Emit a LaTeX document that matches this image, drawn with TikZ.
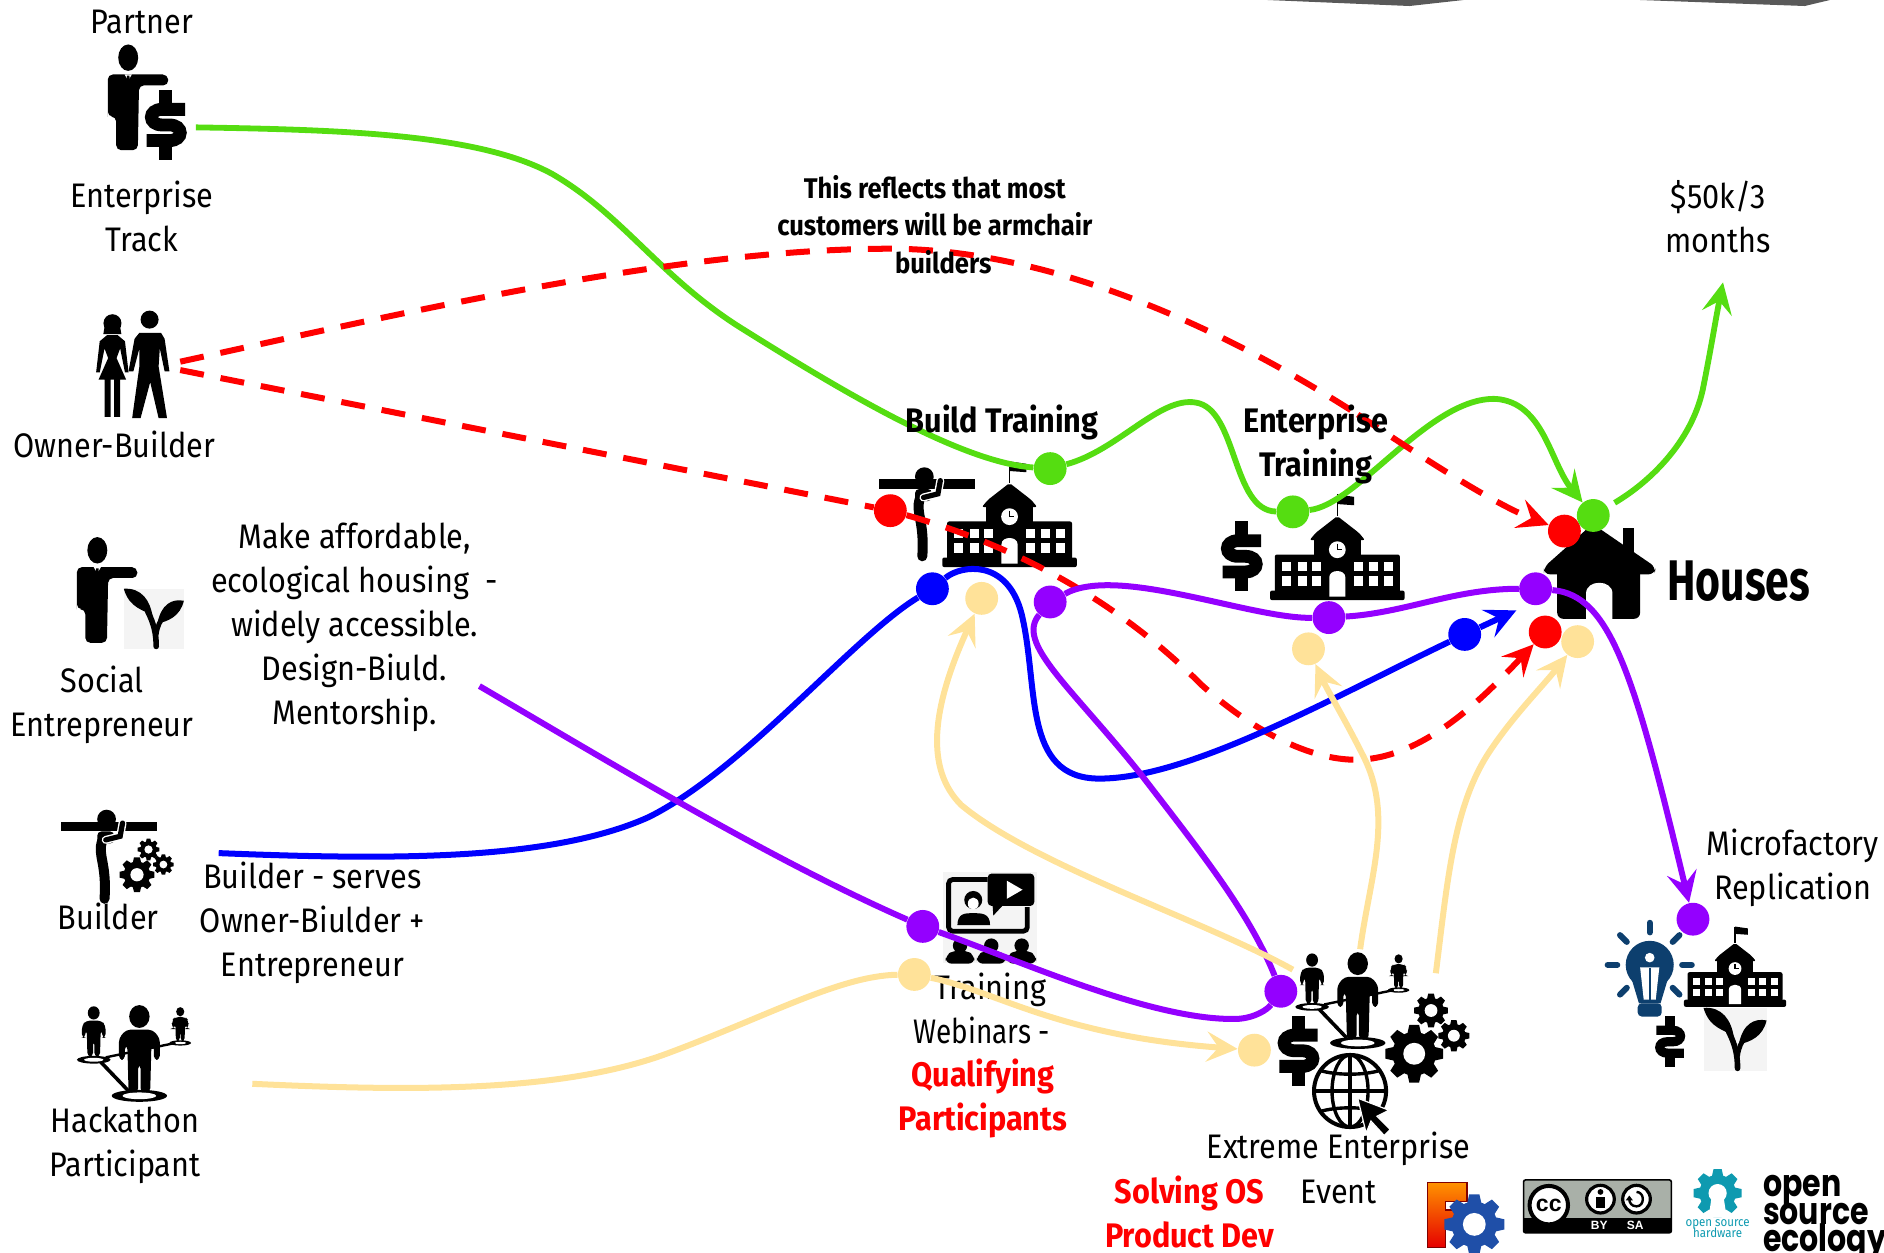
\documentclass[tikz,border=0pt]{standalone}
\usepackage{fontspec}
\setmainfont[FakeStretch=0.9]{Fira Sans}
\newfontfamily\narrowfont[FakeStretch=0.82]{Fira Sans}
\newfontfamily\osefont{Poppins}
\newfontfamily\ccfont{Liberation Sans}
\usetikzlibrary{arrows.meta,shapes.geometric}
\setlength{\lineskiplimit}{-10pt}
\definecolor{cgreen}{HTML}{55DD11}
\definecolor{cred}{HTML}{FF0000}
\definecolor{cblue}{HTML}{0000FF}
\definecolor{cpurple}{HTML}{9400FF}
\definecolor{ccream}{HTML}{FFE299}
\definecolor{cnavy}{HTML}{0D3F6E}
\definecolor{cteal}{HTML}{0E9AB0}
\definecolor{cbadge}{HTML}{A9B0A8}
\definecolor{cbg}{HTML}{F4F4F4}
\definecolor{cfcblue}{HTML}{1F4FA8}
\pgfdeclarelayer{icons}
\pgfdeclarelayer{lines}
\pgfsetlayers{icons,lines,main}
\tikzset{
  lab/.style={align=center,inner sep=0pt,font=\fontsize{17}{22}\selectfont},
  labred/.style={lab,text=cred,font=\fontsize{17}{22}\selectfont\bfseries},
  labbold/.style={lab,font=\fontsize{17}{22}\selectfont\bfseries},
  pt/.style={circle,inner sep=0pt,minimum size=16.4pt,fill=#1},
  wire/.style={line width=3pt,draw=#1},
  greenwire/.style={line width=2.9pt,draw=cgreen},
  redwire/.style={line width=3pt,draw=cred,dash pattern=on 12pt off 8.5pt},
  tip/.style={-{Stealth[length=15.5pt,width=15pt,inset=6pt]}},
  pics/suitman/.style={code={
    \fill (0,0) ellipse [x radius=8.3,y radius=11];
    \fill[rounded corners=2.5] (-17,45) -- (-17,14) -- (33,14) -- (33.5,23) -- (9,23) -- (8,77) -- (-10,77) -- (-10,49) -- (-17,49) -- cycle;
    \fill[white] (-3,14) -- (3,14) -- (0,19) -- cycle;
    \fill (-1,15) -- (1,15) -- (1.5,22) -- (0,25) -- (-1.5,22) -- cycle;
  }},
  pics/dollarmark/.style={code={
    \draw[line width=#1] (16,-13) -- (-3,-13) .. controls (-15,-13) and (-15,0) .. (-3,0) -- (3,0) .. controls (15,0) and (15,13) .. (3,13) -- (-16,13);
    \fill (-5.5,-29) rectangle (5.5,-15);
    \fill (-5.5,15) rectangle (5.5,29);
  }},
  pics/school/.style={code={
    \fill[rounded corners=1] (-56,0) rectangle (56,-8);
    \fill[rounded corners=1] (-52,-6) rectangle (52,-38);
    \fill (-19.5,-36) rectangle (19.5,-52);
    \fill[rounded corners=1] (-23,-50) -- (-18,-56) -- (0,-70) -- (18,-56) -- (23,-50) -- cycle;
    \draw[line width=0.8pt] (0,-70) -- (0,-88);
    \fill (0,-88) -- (14,-86) -- (14,-79) -- (0,-80) -- cycle;
    \fill[white] (0,-42) circle [radius=7];
    \draw[line width=0.7pt] (0,-47) -- (0,-42) -- (4,-42);
    \fill[white] (-6.7,-3) -- (-6.7,-19) .. controls (-6.7,-26) and (6.7,-26) .. (6.7,-19) -- (6.7,-3) -- cycle;
    \foreach \xa in {-46,-33,-21,14,26,39}{
      \fill[white] (\xa,-32) rectangle ++(7.5,8);
      \fill[white] (\xa,-20) rectangle ++(7.5,8);
    }
  }},
  pics/beamer/.style={code={
    \fill (0,-4) rectangle (80,4);
    \fill (37.7,-6.3) circle [radius=7.8];
    \draw[line width=5pt,line cap=round] (34,12) .. controls (30,24) and (38,30) .. (36,60);
    \fill[rounded corners=2] (30,4) rectangle (44,14);
    \draw[white,line width=4pt,line cap=round] (37,11) -- (49,8) -- (51,-3);
    \draw[line width=2.6pt,line cap=round] (37,11) -- (49,8) -- (51,-3);
  }},
  pics/plantmark/.style={code={
    \fill[cbg] (-25,-25) rectangle (25,25);
    \fill (-25,-25) .. controls (-10,-26) and (-3,-15) .. (-1,-2) .. controls (-8,-8) and (-20,-8) .. cycle;
    \fill (25,-15) .. controls (15,-17) and (6,-12) .. (3,4) .. controls (12,2) and (22,-2) .. cycle;
    \draw[line width=2.8pt,line cap=round] (2,23) .. controls (2,12) and (0,4) .. (-5,-6);
    \draw[line width=2.4pt,line cap=round] (2,13) .. controls (3,6) and (5,2) .. (9,-3);
  }},
  pics/cog/.style={code={
    \fill[#1] (0,0) circle [radius=0.76];
    \foreach \aa in {0,45,...,315}{
      \fill[#1,rotate=\aa] (-0.26,0.6) -- (-0.17,1) -- (0.17,1) -- (0.26,0.6) -- cycle;
    }
    \fill[white] (0,0) circle [radius=0.38];
  }},
  pics/figure/.style={code={
    \fill (0,0) ellipse [x radius=8.5,y radius=9.5];
    \fill[rounded corners=2] (-17,36) -- (-17,18) -- (-11,11) -- (11,11) -- (17,18) -- (17,36) -- (12,36) -- (12,24) -- (10,24) -- (9,63) -- (1,63) -- (1,40) -- (-1,40) -- (-1,63) -- (-9,63) -- (-10,24) -- (-12,24) -- (-12,36) -- cycle;
  }},
  pics/network/.style={code={
    \fill (0,66) ellipse [x radius=23,y radius=5];
    \fill[white] (0,66) ellipse [x radius=14,y radius=2.8];
    \fill (-38,36) ellipse [x radius=14,y radius=3.2];
    \fill[white] (-38,36) ellipse [x radius=8,y radius=1.6];
    \fill (34,22) ellipse [x radius=9,y radius=2.2];
    \fill[white] (34,22) ellipse [x radius=5,y radius=1];
    \draw[line width=1.8pt] (-32,38) -- (-9,62);
    \draw[line width=1.2pt] (-28,34) -- (30,22);
    \pic at (0,0) {figure};
    \pic[scale=0.58] at (-38,-3) {figure};
    \pic[scale=0.4] at (34,-4) {figure};
  }},
}
\begin{document}
\begin{tikzpicture}[x=0.6pt,y=-0.6pt]
\useasboundingbox (0,0) rectangle (1568,1042.8);

% ---------- junction dots
\node[pt=cgreen] (gb) at (874,390) {};
\node[pt=cgreen] (ge) at (1076,426) {};
\node[pt=cred] (rh) at (1302,442) {};
\node[pt=cgreen] (gh) at (1326,429) {};
\node[pt=cred] (rb) at (741,425) {};
\node[pt=cblue] (bb) at (776,490) {};
\node[pt=ccream] (cb) at (817,498) {};
\node[pt=cpurple] (pb) at (874,501) {};
\node[pt=cpurple] (pe) at (1106,514) {};
\node[pt=ccream] (ce) at (1089,540) {};
\node[pt=cpurple] (ph) at (1278,490) {};
\node[pt=cblue] (bh) at (1219,528) {};
\node[pt=cred] (rl) at (1286,526) {};
\node[pt=ccream] (cl) at (1313,534) {};
\node[pt=cpurple] (pm) at (1409,765) {};
\node[pt=cpurple] (pw) at (768,771) {};
\node[pt=ccream] (cw) at (761,811) {};
\node[pt=cpurple] (px) at (1066,825) {};
\node[pt=ccream] (cx) at (1044,874) {};

% ---------- free connector ends
\coordinate (gstart) at (163,106);
\coordinate (gend) at (1434,235);
\coordinate (rstarta) at (150,301);
\coordinate (rstartb) at (150,308);
\coordinate (bstart) at (182,710);
\coordinate (bend) at (1262,508);
\coordinate (pstart) at (399,571);
\coordinate (cstart) at (210,902);
\coordinate (cfroma) at (1076,807);
\coordinate (cfromb) at (1132,790);
\coordinate (cfromc) at (1195,810);

% ---------- connectors
\begin{pgfonlayer}{lines}
\draw[greenwire] (gstart) .. controls (290,108) and (400,112) .. (460,145) .. controls (520,180) and (550,232) .. (620,275) .. controls (700,325) and (800,385) .. (gb);
\draw[greenwire] (gb) .. controls (930,375) and (965,330) .. (995,335) .. controls (1030,340) and (1025,425) .. (ge);
\draw[greenwire] (ge) .. controls (1130,420) and (1190,330) .. (1245,332);
\draw[greenwire,tip] (1245,332) .. controls (1285,335) and (1290,385) .. (gh);
\draw[greenwire,tip,shorten <=4pt] (gh) .. controls (1375,400) and (1410,365) .. (1418,320) .. controls (1424,290) and (1428,265) .. (gend);
\draw[redwire] (rstarta) .. controls (330,262) and (560,207) .. (740,207) .. controls (900,207) and (1060,300) .. (1130,345);
\draw[redwire,tip] (1130,345) .. controls (1190,385) and (1245,420) .. (rh);
\draw[redwire] (rstartb) -- (rb);
\draw[redwire,tip] (rb) .. controls (830,450) and (920,490) .. (1000,570) .. controls (1050,615) and (1100,635) .. (1135,632) .. controls (1190,628) and (1240,575) .. (rl);
\draw[wire=cblue] (bstart) .. controls (330,716) and (460,716) .. (540,680) .. controls (620,640) and (710,530) .. (bb);
\draw[wire=cblue] (bb) .. controls (800,470) and (838,465) .. (850,510) .. controls (865,570) and (850,648) .. (915,648) .. controls (990,648) and (1110,580) .. (bh);
\draw[wire=cblue,tip] (bh) -- (bend);
\draw[wire=cpurple] (pstart) .. controls (500,630) and (640,715) .. (pw);
\draw[wire=cpurple] (pw) .. controls (850,800) and (960,850) .. (1030,848) .. controls (1045,847) and (1055,840) .. (px);
\draw[wire=cpurple] (px) .. controls (1040,760) and (1000,710) .. (950,645) .. controls (890,570) and (845,535) .. (pb);
\draw[wire=cpurple] (pb) .. controls (930,470) and (1040,515) .. (pe);
\draw[wire=cpurple] (pe) .. controls (1170,510) and (1210,490) .. (ph);
\draw[wire=cpurple,tip] (ph) .. controls (1340,495) and (1360,560) .. (pm);
\draw[wire=ccream] (cstart) .. controls (340,908) and (470,910) .. (560,875) .. controls (640,845) and (700,812) .. (cw);
\draw[wire=ccream,tip] (cw) .. controls (830,825) and (880,862) .. (cx);
\draw[wire=ccream,tip] (cfroma) .. controls (1000,765) and (860,720) .. (800,670) .. controls (770,640) and (775,590) .. (cb);
\draw[wire=ccream,tip] (cfromb) .. controls (1140,730) and (1160,680) .. (1135,630) .. controls (1120,600) and (1105,575) .. (ce);
\draw[wire=ccream,tip] (cfromc) .. controls (1205,730) and (1210,670) .. (1240,625) .. controls (1260,595) and (1285,570) .. (cl);
\end{pgfonlayer}

% ---------- icons
\begin{pgfonlayer}{icons}
\node[lab] (ttrain) at (817,839) {\hspace*{9pt}Training\\{\narrowfont Webinars -}};
\fill[black!65] (1055,0) -- (1173,5) -- (1218,0) -- cycle;
\fill[black!65] (1365,0) -- (1502,5) -- (1523,0) -- cycle;
% partner
\pic at (106.7,48) {suitman};
\pic at (138,104) {dollarmark=6.4pt};
% couple
\fill (93.6,269) circle [radius=7.5];
\fill (86,278) -- (88,266) -- (99,266) -- (101,278) -- cycle;
\fill (89,279) -- (98,279) -- (104,284) -- (107,310) -- (104,310) -- (100,290) -- (97,298) -- (105,316) -- (100,316) -- (100,347) -- (95,347) -- (95,316) -- (92,316) -- (92,347) -- (87,347) -- (87,316) -- (82,316) -- (90,298) -- (87,290) -- (83,310) -- (80,310) -- (83,284) -- cycle;
\fill (124.5,266) circle [radius=7.5];
\fill (116,277) -- (134,277) -- (137,282) -- (141,309) -- (137,309) -- (133,290) -- (132,305) -- (139,348) -- (132,348) -- (125,318) -- (117,348) -- (110,348) -- (116,305) -- (116,290) -- (111,309) -- (107,309) -- (112,282) -- cycle;
% social entrepreneur
\pic at (81,458) {suitman};
\pic at (128,515) {plantmark};
% builder
\pic at (51,688) {beamer};
\pic[scale=14.5] at (114,728) {cog=black};
\pic[scale=9] at (123.6,707) {cog=black};
\pic[scale=8.5] at (136,719.5) {cog=black};
% hackathon
\pic at (116,846) {network};
% build training
\pic at (731.6,403) {beamer};
\pic at (840.2,472) {school};
% enterprise training
\pic at (1033.5,463) {dollarmark=6.4pt};
\pic at (1113,499.5) {school};
% house
\fill[rounded corners=3] (1325.5,436) -- (1378,472) -- (1377,478) -- (1285,478) -- (1285,472) -- cycle;
\fill (1351,439.5) rectangle (1360,462);
\fill[rounded corners=3] (1296,470) -- (1365,470) -- (1365,515) -- (1296,515) -- cycle;
\fill[white] (1320,515) -- (1320,494) .. controls (1320,482) and (1342,482) .. (1342,494) -- (1342,515) -- cycle;
% webinar
\fill[cbg] (784.6,726) rectangle (862.8,801.7);
\draw[line width=2.4pt,rounded corners=2] (855,755) -- (855,775) -- (789.5,775) -- (789.5,732) -- (822,732);
\fill[rounded corners=2] (822,727) rectangle (860.8,754);
\fill (826,752) -- (826.7,762) -- (836,752) -- cycle;
\fill[white] (838,733) -- (838,748) -- (851,740.5) -- cycle;
\fill (810,749) circle [radius=7.5];
\fill[white] (810,752) ellipse [x radius=4.5,y radius=5];
\fill (796.8,770) .. controls (797,760) and (803,760) .. (810,760) .. controls (817,760) and (824,760) .. (824,770) -- cycle;
\foreach \xa in {799,825,850.3}{
  \fill (\xa,787) circle [radius=6];
  \fill[rounded corners=3] (\xa-12,802) -- (\xa-12,795) -- (\xa-5,791) -- (\xa+5,791) -- (\xa+12,795) -- (\xa+12,802) -- cycle;
}
% extreme enterprise
\pic at (1130,802) {network};
\pic at (1080.7,874.5) {dollarmark=6.4pt};
\pic[scale=24] at (1177,877) {cog=black};
\pic[scale=14] at (1191,841) {cog=black};
\pic[scale=13] at (1210,862) {cog=black};
\draw[line width=2pt,fill=white] (1123.6,908) circle [radius=30];
\draw[line width=1.7pt] (1123.6,908) ellipse [x radius=15,y radius=30];
\draw[line width=1.7pt] (1123.6,878) -- (1123.6,938);
\draw[line width=1.7pt] (1094,908) -- (1153,908);
\draw[line width=1.7pt] (1099,891) .. controls (1112,895) and (1135,895) .. (1148,891);
\draw[line width=1.7pt] (1099,925) .. controls (1112,921) and (1135,921) .. (1148,925);
\fill[draw=white,line width=0.6pt] (1130,914) -- (1156,924) -- (1146,929) -- (1157,940) -- (1152,945) -- (1141,933) -- (1137,943) -- cycle;
% microfactory
\foreach \aa in {0,45,90,135,180,225,315}{
  \draw[cnavy,line width=3pt,line cap=round,rotate around={\aa:(1373,803)}] (1400,803) -- (1408,803);
}
\fill[cnavy] (1373,803) circle [radius=20];
\fill[cnavy] (1358,815) -- (1388,815) -- (1382,835) -- (1364,835) -- cycle;
\fill[cnavy,rounded corners=2] (1363,835) rectangle (1383,846);
\fill[white] (1373,797) circle [radius=4];
\fill[white] (1365,805) -- (1381,805) -- (1378,832) -- (1368,832) -- cycle;
\fill[cnavy] (1372,806) -- (1374,806) -- (1374,832) -- (1372,832) -- cycle;
\pic[scale=0.76] at (1444,838) {school};
\pic[xscale=-0.72,yscale=0.73] at (1390,867) {dollarmark=4.6pt};
\pic[scale=1.05] at (1444,865) {plantmark};
% FreeCAD logo
\path[top color=orange!85!yellow,bottom color=red!90!black,draw=red!50!black,line width=0.6pt] (1188,984) -- (1221,984) -- (1221,1000) -- (1203,1000) -- (1203,1007) -- (1216,1007) -- (1216,1020) -- (1203,1020) -- (1203,1038) -- (1188,1038) -- cycle;
\pic[scale=25] at (1227,1019) {cog=cfcblue};
% CC badge
\fill[cbadge,draw=black,line width=0.8pt,rounded corners=1] (1268,982) rectangle (1391,1026);
\fill (1268,1014) rectangle (1391,1026);
\draw[fill=white,line width=2pt] (1289,1003) circle [radius=16];
\draw[fill=white,line width=1.6pt] (1332,998) circle [radius=11.5];
\draw[fill=white,line width=1.6pt] (1362,998) circle [radius=11.5];
\fill (1332,992) circle [radius=2.4];
\fill (1328,996) rectangle (1336,1005);
\draw[line width=1.2pt] (1362,992) .. controls (1369,992) and (1369,1004) .. (1362,1004) .. controls (1358,1004) and (1356,1001) .. (1356,998);
\fill (1353,999) -- (1359,999) -- (1356,995) -- cycle;
% OSHW gear
\pic[scale=20] at (1429.5,993) {cog=cteal};
\fill[white] (1425,993) -- (1434,993) -- (1437,1013) -- (1422,1013) -- cycle;
\end{pgfonlayer}

% ---------- labels
\node[lab] (tpartner) at (118,18) {Partner};
\node[lab] (ttrack) at (118,180) {Enterprise\\Track};
\node[lab] (towner) at (95,370) {Owner-Builder};
\node[lab] (tsocial) at (85,586.5) {Social\\Entrepreneur};
\node[lab] (tbuilder) at (90,763) {Builder};
\node[lab] (tserves) at (260,768) {Builder - serves\\Owner-Biulder +\\Entrepreneur};
\node[lab] (tmake) at (295,522) {Make affordable,\\ecological housing\ \ -\\widely accessible.\\Design-Biuld.\\Mentorship.};
\node[lab] (thack) at (104,953) {Hackathon\\Participant};
\node[labred] (tqual) at (818,914) {Qualifying\\Participants};
\node[lab] (textreme) at (1114,972) {Extreme Enterprise\\Event};
\node[labred] (tsolving) at (990,1009) {Solving OS\\Product Dev};
\node[lab] (tmicro) at (1492,722) {Microfactory\\Replication};
\node[lab] (tmoney) at (1430,180) {\$50k/3\\months};
\node[labbold,yscale=1.1,transform shape,font=\narrowfont\fontsize{26}{30}\selectfont\bfseries] (thouses) at (1447,484) {Houses};
\node[labbold] (tbuild) at (834,352) {Build Training};
\node[labbold] (tenter) at (1095,370) {Enterprise\\Training};
\node[labbold,font=\fontsize{14.2}{18.6}\selectfont\bfseries] (tnote) at (778,187) {This reflects that most\\customers will be armchair\\\hspace*{8.4pt}builders};
% logo texts
\node[inner sep=0pt,font=\ccfont\fontsize{11.5}{12}\selectfont\bfseries] (tcc) at (1289,1003) {cc};
\node[inner sep=0pt,text=white,font=\ccfont\fontsize{6}{7}\selectfont\bfseries] (tby) at (1331,1020) {BY};
\node[inner sep=0pt,text=white,font=\ccfont\fontsize{6}{7}\selectfont\bfseries] (tsa) at (1361,1020) {SA};
\node[inner sep=0pt,align=center,text=cteal,font=\fontsize{6.4}{5.2}\selectfont] (toshw) at (1429.5,1022.5) {open source\\hardware};
\node[inner sep=0pt,anchor=north west,align=left,yscale=1.25,transform shape,font=\osefont\fontsize{15}{11}\selectfont\bfseries] (tose) at (1467,978) {open\\source\\ecology};
\end{tikzpicture}
\end{document}
